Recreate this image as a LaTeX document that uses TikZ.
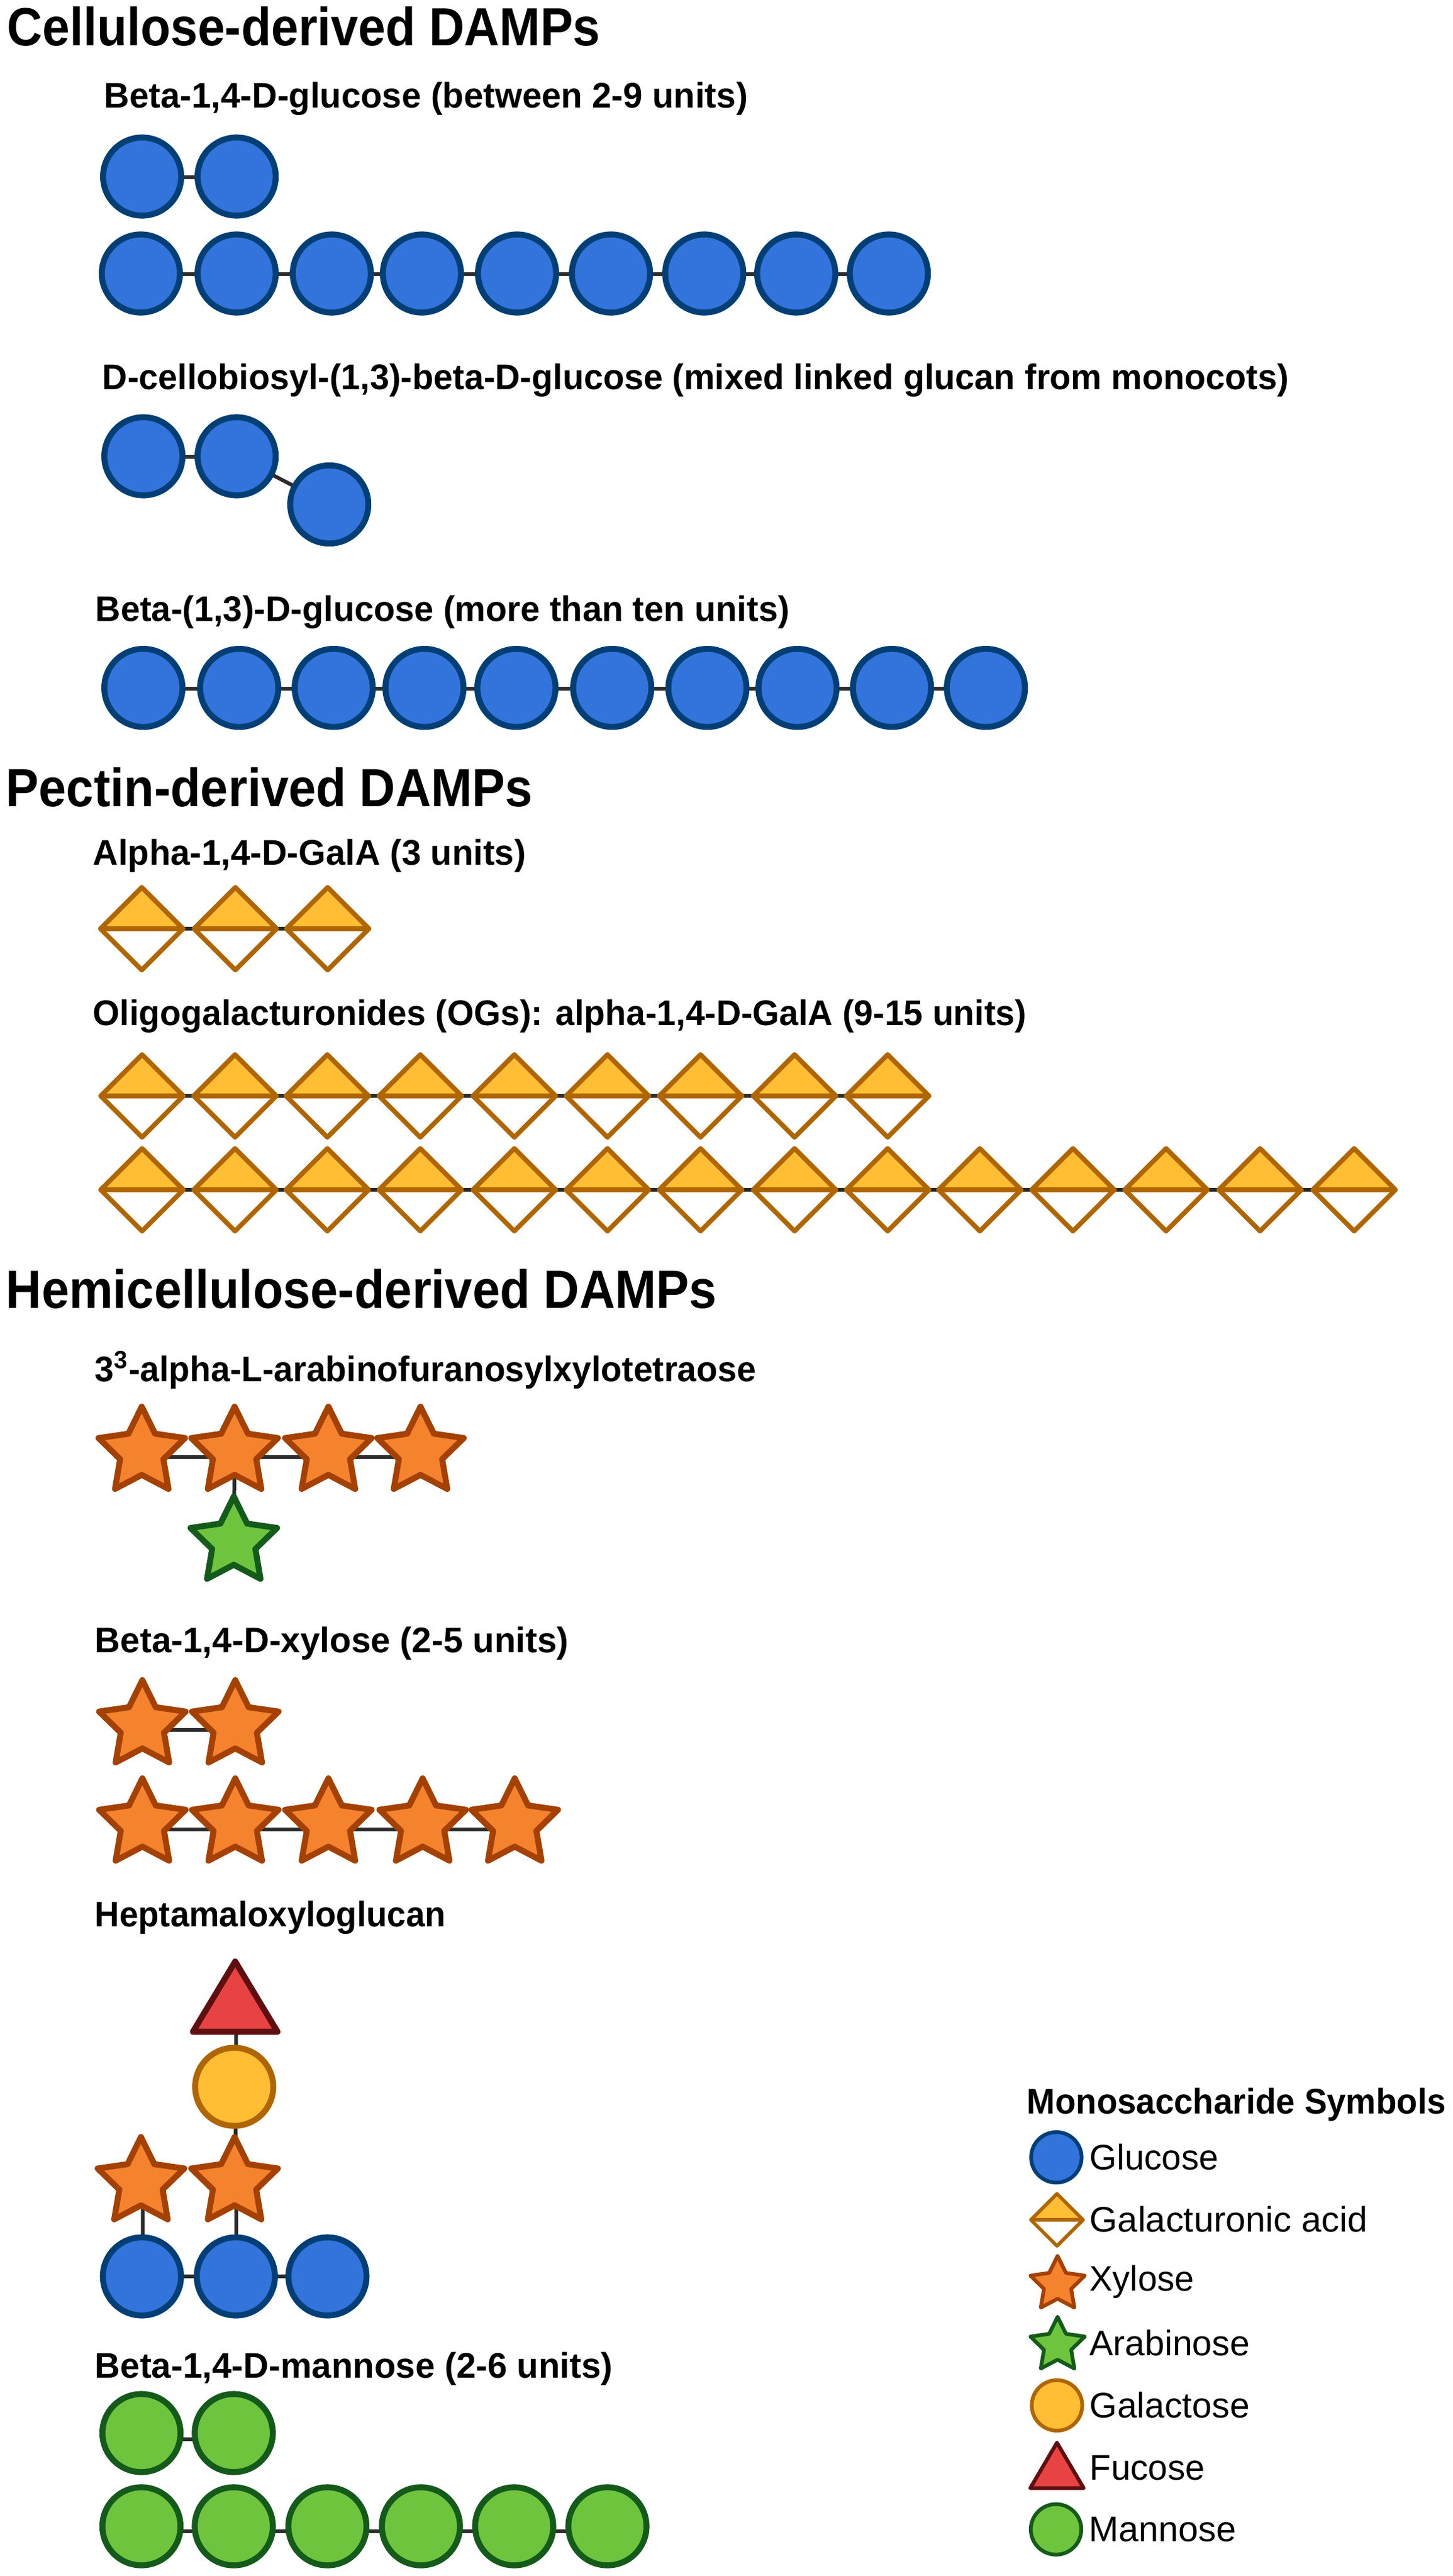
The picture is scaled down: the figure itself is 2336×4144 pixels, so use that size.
\documentclass[tikz,border=0pt]{standalone}
\usepackage{graphicx}
\usepackage{fontspec}
\setmainfont{Liberation Sans}
\usetikzlibrary{shapes.geometric}
\pgfdeclarelayer{bg}
\pgfsetlayers{bg,main}
\definecolor{glcF}{HTML}{3274DB}\definecolor{glcD}{HTML}{003F75}
\definecolor{galF}{HTML}{FFBE34}\definecolor{galD}{HTML}{B06600}
\definecolor{xylF}{HTML}{F5832E}\definecolor{xylD}{HTML}{A44100}
\definecolor{manF}{HTML}{6FC43E}\definecolor{manD}{HTML}{145A1A}
\definecolor{fucF}{HTML}{E84343}\definecolor{fucD}{HTML}{5F0F10}
\definecolor{linkC}{HTML}{2B2B2B}
\tikzset{
  sugar/.style={inner sep=0pt,outer sep=0pt,line join=round},
  big/.style={line width=2.4pt},
  small/.style={line width=1.5pt},
  bigcirc/.style={sugar,big,circle,minimum size=31.4pt},
  smallcirc/.style={sugar,small,circle,minimum size=20.3pt},
  bigstar/.style={sugar,big,star,star points=5,star point ratio=2,minimum size=36.6pt},
  smallstar/.style={sugar,small,star,star points=5,star point ratio=2,minimum size=23pt},
  glc/.style={fill=glcF,draw=glcD},
  gal/.style={fill=galF,draw=galD},
  man/.style={fill=manF,draw=manD},
  xyl/.style={fill=xylF,draw=xylD},
  ara/.style={fill=manF,draw=manD},
  fuc/.style={fill=fucF,draw=fucD},
  halfdiamond/.style={sugar,diamond,aspect=1,draw=galD,fill=white,
    path picture={
      \fill[galF] (path picture bounding box.west) rectangle (path picture bounding box.north east);
      \draw[galD,line width=#1] (path picture bounding box.west) -- (path picture bounding box.east);
    }},
  bigdia/.style={halfdiamond=2pt,line width=1.9pt,minimum width=33.25pt,minimum height=33.25pt},
  smalldia/.style={halfdiamond=1.4pt,line width=1.4pt,minimum width=21pt,minimum height=21pt},
  tri/.style={sugar,isosceles triangle,isosceles triangle stretches,shape border rotate=90},
  bigtri/.style={tri,big,minimum height=28.25pt,minimum width=34pt},
  smalltri/.style={tri,small,minimum height=18.25pt,minimum width=21.5pt},
  link/.style={draw=linkC,line width=1.5pt},
  head/.style={anchor=base west,inner sep=0pt,font=\bfseries\fontsize{21.65pt}{26pt}\selectfont},
  sub/.style={anchor=base west,inner sep=0pt,font=\bfseries\fontsize{14.3pt}{17pt}\selectfont},
  leg/.style={anchor=base west,inner sep=0pt,font=\fontsize{14.3pt}{17pt}\selectfont},
}
% style, prefix, y, link offset, x list
\newcommand\sugarchain[5]{%
  \foreach \xx [count=\nn] in {#5} {\node[#1] (#2\nn) at (\xx,#3) {};}
  \begin{pgfonlayer}{bg}
  \foreach \xx [count=\nn] in {#5} {%
    \ifnum\nn>1
      \pgfmathtruncatemacro\pp{\nn-1}
      \draw[link] ([yshift=#4]#2\pp.center) -- ([yshift=#4]#2\nn.center);
    \fi}
  \end{pgfonlayer}}
% style, name, x, y, width px, text
\newcommand\lab[6]{\node[#1] (#2) at (#3,#4) {\resizebox{\dimexpr#5pt/4\relax}{\height}{#6}};}
\begin{document}
\begin{tikzpicture}[x=0.25pt,y=-0.25pt]
\useasboundingbox (0,0) rectangle (2336,4144);
\begin{pgfonlayer}{bg}\fill[white] (0,0) rectangle (2336,4144);\end{pgfonlayer}
% headings
\lab{head}{hA}{11}{74}{954}{Cellulose-derived DAMPs}
\lab{head}{hB}{9}{1297}{847}{Pectin-derived DAMPs}
\lab{head}{hC}{9}{2104}{1143}{Hemicellulose-derived DAMPs}
\lab{sub}{sA}{167}{173}{1035}{Beta-1,4-D-glucose (between 2-9 units)}
\lab{sub}{sB}{164}{626}{1908}{D-cellobiosyl-(1,3)-beta-D-glucose (mixed linked glucan from monocots)}
\lab{sub}{sC}{153}{999}{1116}{Beta-(1,3)-D-glucose (more than ten units)}
\lab{sub}{sD}{149}{1391}{696}{Alpha-1,4-D-GalA (3 units)}
\lab{sub}{sE}{149}{1649}{1501}{Oligogalacturonides (OGs): alpha-1,4-D-GalA (9-15 units)}
\lab{sub}{sF}{152}{2222}{1063}{3\textsuperscript{3}-alpha-L-arabinofuranosylxylotetraose}
\lab{sub}{sG}{152}{2658}{762}{Beta-1,4-D-xylose (2-5 units)}
\lab{sub}{sH}{152}{3099}{564}{Heptamaloxyloglucan}
\lab{sub}{sI}{152}{3825}{833}{Beta-1,4-D-mannose (2-6 units)}
% cellulose
\sugarchain{bigcirc,glc}{ga}{284}{-0.3pt}{228.6,380.6}
\sugarchain{bigcirc,glc}{gb}{440}{-0.3pt}{226.5,380.6,533.7,678.6,831.6,982.7,1132.7,1280.6,1429.6}
\sugarchain{bigcirc,glc}{gc}{734}{-0.3pt}{230.6,380.6}
\node[bigcirc,glc] (gd) at (529.6,811.5) {};
\begin{pgfonlayer}{bg}\draw[link] (gc2.center) -- (gd.center);\end{pgfonlayer}
\sugarchain{bigcirc,glc}{ge}{1106.6}{-0.3pt}{230.6,384.7,536.7,682.7,830.6,984.7,1137.8,1282.7,1434.7,1585.7}
% pectin
\sugarchain{bigdia}{da}{1494}{0pt}{228,378.6,527}
\sugarchain{bigdia}{db}{1763}{0pt}{228.4,378,526.4,676,827.3,977,1126.8,1278,1427.7}
\sugarchain{bigdia}{dc}{1914}{0pt}{228.4,378,526.4,676,827.3,977,1126.8,1278,1427.7,1576,1725.8,1875.5,2026.7,2177.9}
% hemicellulose
\sugarchain{bigstar,xyl}{xa}{2336}{-1.9pt}{228,377.3,528.2,676.3}
\node[bigstar,ara] (ar) at (376,2480.6) {};
\begin{pgfonlayer}{bg}\draw[link] (xa2.center) -- (ar.center);\end{pgfonlayer}
\sugarchain{bigstar,xyl}{xb}{2776}{-1.7pt}{229,378.4}
\sugarchain{bigstar,xyl}{xc}{2934}{-2.2pt}{229,378.4,528.2,679.8,827.9}
% heptamaloxyloglucan
\node[bigtri,fuc] (hf) at (378.3,3230) {};
\node[bigcirc,gal] (hg) at (376.7,3357) {};
\node[bigstar,xyl] (hx1) at (226.7,3511) {};
\node[bigstar,xyl] (hx2) at (377.3,3511) {};
\sugarchain{bigcirc,glc}{hc}{3662}{0pt}{228.3,379.3,526.7}
\begin{pgfonlayer}{bg}
  \draw[link] ([xshift=0.5pt]hf.center) -- ([xshift=0.5pt]hg.center);
  \draw[link] ([xshift=0.5pt]hg.center) -- ([xshift=0.5pt]hx2.center);
  \draw[link] ([xshift=0.7pt]hx1.center) -- ([xshift=0.4pt]hc1.center);
  \draw[link] ([xshift=0.7pt]hx2.center) -- ([xshift=0.2pt]hc2.center);
\end{pgfonlayer}
% mannan
\sugarchain{bigcirc,man}{ma}{3914}{-2.5pt}{227.5,376}
\sugarchain{bigcirc,man}{mb}{4064}{-2pt}{227.5,376,526.6,677,827,977}
% legend
\lab{sub}{lT}{1651}{3400}{674}{Monosaccharide Symbols}
\node[smallcirc,glc] (l1) at (1699,3470.5) {};
\lab{leg}{t1}{1752}{3490}{207}{Glucose}
\node[smalldia] (l2) at (1700,3571) {};
\lab{leg}{t2}{1752}{3590}{447}{Galacturonic acid}
\node[smallstar,xyl] (l3) at (1701,3675) {};
\lab{leg}{t3}{1751.5}{3685}{168}{Xylose}
\node[smallstar,ara] (l4) at (1701,3773) {};
\lab{leg}{t4}{1751.5}{3789}{258}{Arabinose}
\node[smallcirc,gal] (l5) at (1700,3869.5) {};
\lab{leg}{t5}{1752}{3889}{257}{Galactose}
\node[smalltri,fuc] (l6) at (1700,3978) {};
\lab{leg}{t6}{1752}{3989}{185}{Fucose}
\node[smallcirc,man] (l7) at (1698.5,4069) {};
\lab{leg}{t7}{1751}{4088}{237}{Mannose}
\end{tikzpicture}
\end{document}
